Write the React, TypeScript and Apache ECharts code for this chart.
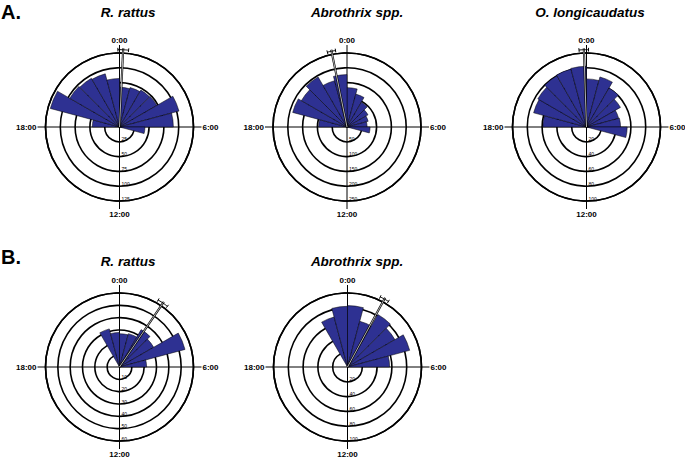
import React, { useEffect, useRef } from 'react';
import * as echarts from 'echarts';

// ---- data ----
const hourBins = [0, 1, 2, 3, 4, 5, 6, 7, 8, 9, 10, 11, 12, 13, 14, 15, 16, 17, 18, 19, 20, 21, 22, 23];
const hourTickLabels = ['12:00', '18:00', '0:00', '6:00'];

// counts per hourly bin (0:00-1:00 ... 23:00-24:00)
const rattusA = [67, 69, 72, 73, 104, 91, 43, 0, 0, 0, 0, 0, 0, 0, 0, 0, 0, 0, 46, 121, 97, 95, 93, 82];
const abrothrixA = [133, 115, 97, 82, 74, 68, 78, 0, 0, 0, 0, 0, 0, 0, 0, 0, 0, 0, 96, 190, 178, 195, 162, 177];
const longicaudatusA = [65, 70, 61, 53, 45, 46, 55, 0, 0, 0, 0, 0, 0, 0, 0, 0, 0, 0, 59, 74, 76, 80, 81, 82];
const rattusB = [27, 28, 35, 32, 55, 22, 0, 0, 0, 0, 0, 0, 0, 0, 0, 0, 0, 0, 0, 0, 0, 0, 32, 28];
const abrothrixB = [83, 64, 82, 74, 87, 57, 0, 0, 0, 0, 0, 0, 0, 0, 0, 0, 0, 0, 0, 0, 0, 0, 70, 82];

const panelTitles = ['R. rattus', 'Abrothrix spp.', 'O. longicaudatus', 'R. rattus', 'Abrothrix spp.'];
const radiusMax = [125, 250, 100, 60, 100];
const radiusStep = [25, 50, 20, 10, 20];
// mean activity direction (hours) and its confidence interval
const meanHours = [0.18, 23.23, 23.87, 2.28, 1.9];
const ciLowHours = [23.92, 23.02, 23.63, 2.0, 1.67];
const ciHighHours = [0.45, 23.43, 0.1, 2.55, 2.13];

const panelValues = [rattusA, abrothrixA, longicaudatusA, rattusB, abrothrixB];

// ---- layout ----
const CENTERS: [number, number][] = [
  [119.5, 127],
  [347, 127],
  [586.5, 127],
  [119.5, 367],
  [347.5, 367],
];
const TITLE_POS: [number, number][] = [
  [128, 12],
  [357, 12],
  [590, 12],
  [128, 261],
  [357, 261],
];
const RADIUS = 74;
const FONT = '"Liberation Sans", Arial, Helvetica, sans-serif';
const BAR_COLOR = '#2E3192';

// angle axis runs from 12:00 (bottom) clockwise to 36 (=12:00)
const toAxisHour = (h: number) => (h < 12 ? h + 24 : h);

export default function App() {
  const ref = useRef<HTMLDivElement>(null);
  useEffect(() => {
    const chart = echarts.init(ref.current!, null, { renderer: 'svg' });
    const polar: any[] = [];
    const angleAxis: any[] = [];
    const radiusAxis: any[] = [];
    const series: any[] = [];

    panelValues.forEach((vals, i) => {
      const max = radiusMax[i];
      polar.push({ center: [CENTERS[i][0], CENTERS[i][1]], radius: RADIUS });
      angleAxis.push({
        polarIndex: i,
        type: 'value',
        min: 12,
        max: 36,
        interval: 6,
        startAngle: 270,
        clockwise: true,
        axisLine: { show: true, lineStyle: { color: '#000', width: 1.6 } },
        axisTick: { show: true, length: 8, lineStyle: { color: '#000', width: 1 } },
        splitLine: { show: true, lineStyle: { color: '#000', width: 1 } },
        axisLabel: {
          margin: 9,
          color: '#000',
          fontSize: 8,
          fontWeight: 'bold',
          fontFamily: FONT,
          formatter: (v: number) => hourTickLabels[((v - 12) / 6) % 4],
        },
      });
      radiusAxis.push({
        polarIndex: i,
        type: 'value',
        min: 0,
        max,
        interval: radiusStep[i],
        axisLine: { show: false },
        axisTick: { show: false },
        splitLine: { show: true, lineStyle: { color: '#000', width: 1.6 } },
        axisLabel: {
          showMinLabel: false,
          margin: 2,
          align: 'left',
          verticalAlign: 'bottom',
          fontSize: 5,
          color: '#000',
          fontFamily: FONT,
        },
      });
      series.push({
        type: 'bar',
        coordinateSystem: 'polar',
        polarIndex: i,
        barWidth: '100%',
        z: 3,
        itemStyle: { color: BAR_COLOR, borderColor: '#000', borderWidth: 0.5 },
        data: hourBins.map((h, k) => [vals[k], toAxisHour(h + 0.5)]),
      });
      series.push({
        type: 'custom',
        coordinateSystem: 'polar',
        polarIndex: i,
        z: 4,
        silent: true,
        data: [[0, toAxisHour(meanHours[i]), toAxisHour(ciLowHours[i]), toAxisHour(ciHighHours[i])]],
        renderItem: (params: any, api: any) => {
          const mean = api.value(1);
          const lo = api.value(2);
          const hi = api.value(3);
          const c0 = api.coord([0, mean]);
          const c1 = api.coord([max * 1.065, mean]);
          const arcPts: number[][] = [];
          const n = 10;
          for (let k = 0; k <= n; k++) arcPts.push(api.coord([max * 1.045, lo + ((hi - lo) * k) / n]));
          const capA0 = api.coord([max * 1.02, lo]);
          const capA1 = api.coord([max * 1.07, lo]);
          const capB0 = api.coord([max * 1.02, hi]);
          const capB1 = api.coord([max * 1.07, hi]);
          return {
            type: 'group',
            children: [
              { type: 'line', shape: { x1: c0[0], y1: c0[1], x2: c1[0], y2: c1[1] }, style: { stroke: '#000', lineWidth: 2.1 } },
              { type: 'line', shape: { x1: c0[0], y1: c0[1], x2: c1[0], y2: c1[1] }, style: { stroke: '#fff', lineWidth: 0.7 } },
              { type: 'polyline', shape: { points: arcPts }, style: { stroke: '#000', fill: null, lineWidth: 1 } },
              { type: 'line', shape: { x1: capA0[0], y1: capA0[1], x2: capA1[0], y2: capA1[1] }, style: { stroke: '#000', lineWidth: 1 } },
              { type: 'line', shape: { x1: capB0[0], y1: capB0[1], x2: capB1[0], y2: capB1[1] }, style: { stroke: '#000', lineWidth: 1 } },
            ],
          };
        },
      });
    });

    const graphic: any[] = panelTitles.map((t, i) => ({
      type: 'text',
      x: TITLE_POS[i][0],
      y: TITLE_POS[i][1],
      style: {
        text: t,
        align: 'center',
        verticalAlign: 'middle',
        font: `italic bold 13.5px ${FONT}`,
        fill: '#000',
      },
    }));
    graphic.push(
      { type: 'text', x: 1, y: 12, style: { text: 'A.', align: 'left', verticalAlign: 'middle', font: `bold 20px ${FONT}`, fill: '#000' } },
      { type: 'text', x: 1, y: 257, style: { text: 'B.', align: 'left', verticalAlign: 'middle', font: `bold 20px ${FONT}`, fill: '#000' } }
    );

    chart.setOption({
      animation: false,
      backgroundColor: '#fff',
      polar,
      angleAxis,
      radiusAxis,
      series,
      graphic,
    });
    return () => chart.dispose();
  }, []);

  return (
    <div
      ref={ref}
      style={{ position: 'fixed', left: 0, top: 0, width: 685, height: 457, background: '#fff' }}
    />
  );
}
